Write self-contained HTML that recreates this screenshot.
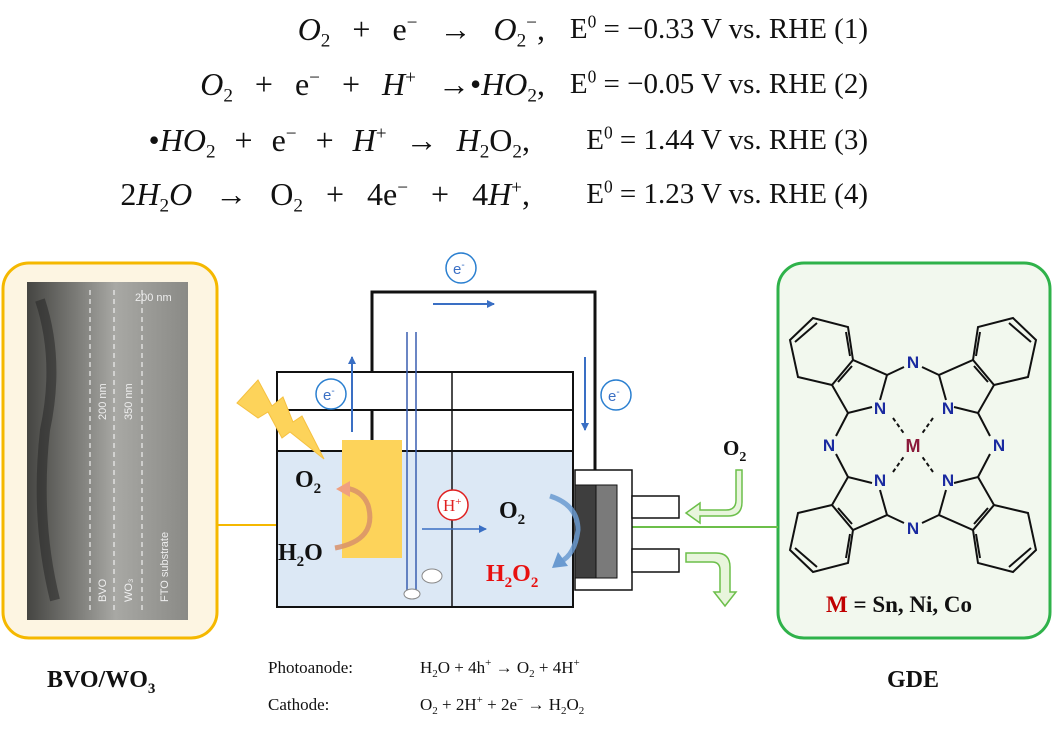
<!DOCTYPE html>
<html><head><meta charset="utf-8"><style>
body{margin:0;width:1052px;height:733px;background:#fff;overflow:hidden;position:relative;font-family:"Liberation Serif",serif}
.l{position:absolute;right:507px;font-size:32px;word-spacing:14px;white-space:pre;color:#111}
.r{position:absolute;right:184px;font-size:29px;white-space:pre;color:#111}
i{font-style:italic}
sub{font-size:60%;vertical-align:-0.35em;line-height:0}
sup{font-size:60%;vertical-align:0.6em;line-height:0}
</style></head><body>
<div class="l" style="top:11px"><i>O</i><sub>2</sub> + e<sup>−</sup> → <i>O</i><sub>2</sub><sup>−</sup>,</div>
<div class="r" style="top:13px">E<sup>0</sup> = −0.33 V vs. RHE (1)</div>
<div class="l" style="top:66px"><i>O</i><sub>2</sub> + e<sup>−</sup> + <i>H</i><sup>+</sup> →•<i>HO</i><sub>2</sub>,</div>
<div class="r" style="top:68px">E<sup>0</sup> = −0.05 V vs. RHE (2)</div>
<div class="l" style="top:122px;right:522px;word-spacing:11px">•<i>HO</i><sub>2</sub> + e<sup>−</sup> + <i>H</i><sup>+</sup> → <i>H</i><sub>2</sub>O<sub>2</sub>,</div>
<div class="r" style="top:124px">E<sup>0</sup> = 1.44 V vs. RHE (3)</div>
<div class="l" style="top:176px;right:522px;word-spacing:15px">2<i>H</i><sub>2</sub><i>O</i> → O<sub>2</sub> + 4e<sup>−</sup> + 4<i>H</i><sup>+</sup>,</div>
<div class="r" style="top:178px">E<sup>0</sup> = 1.23 V vs. RHE (4)</div>

<svg width="1052" height="733" style="position:absolute;left:0;top:0" font-family="Liberation Serif">
<defs>
<marker id="ab" markerWidth="8" markerHeight="8" refX="7" refY="4" orient="auto" markerUnits="userSpaceOnUse"><path d="M0,0 L8,4 L0,8z" fill="#3a6fc4"/></marker>
<linearGradient id="sem" x1="0" x2="1"><stop offset="0" stop-color="#454542"/><stop offset="0.3" stop-color="#7a7a76"/><stop offset="0.55" stop-color="#a8a8a4"/><stop offset="1" stop-color="#8a8a86"/></linearGradient>
</defs>
<rect x="3" y="263" width="214" height="375" rx="26" fill="#fdf5e2" stroke="#f5b800" stroke-width="3"/>
<rect x="27" y="282" width="161" height="338" fill="url(#sem)"/>
<path d="M40,300 Q60,360 45,430 Q35,520 55,600" stroke="#222" stroke-width="10" fill="none" opacity="0.5"/>
<g stroke="#eee" stroke-dasharray="5,4" stroke-width="1.2"><line x1="90" y1="290" x2="90" y2="610"/><line x1="114" y1="290" x2="114" y2="610"/><line x1="142" y1="290" x2="142" y2="610"/></g>
<text x="135" y="301" font-family="Liberation Sans" font-size="11" fill="#eee">200 nm</text>
<g font-family="Liberation Sans" font-size="11" fill="#eee">
<text transform="translate(106,602) rotate(-90)">BVO</text>
<text transform="translate(132,602) rotate(-90)">WO₃</text>
<text transform="translate(168,602) rotate(-90)">FTO substrate</text>
<text transform="translate(106,420) rotate(-90)">200 nm</text>
<text transform="translate(132,420) rotate(-90)">350 nm</text></g>
<line x1="217" y1="525" x2="343" y2="525" stroke="#f5b800" stroke-width="2"/>
<rect x="778" y="263" width="272" height="375" rx="26" fill="#f2f8ee" stroke="#2fb24a" stroke-width="3"/>
<line x1="617" y1="527" x2="778" y2="527" stroke="#6cbf4a" stroke-width="2"/>
<rect x="277" y="451" width="296" height="156" fill="#dce8f5"/>
<rect x="277" y="372" width="296" height="235" fill="none" stroke="#111" stroke-width="2"/>
<polyline points="372,440 372,292 595,292 595,485" fill="none" stroke="#111" stroke-width="3"/>
<rect x="369" y="373" width="83" height="36" fill="#fff"/>
<line x1="277" y1="410" x2="573" y2="410" stroke="#111" stroke-width="2"/>
<line x1="277" y1="451" x2="573" y2="451" stroke="#111" stroke-width="2"/>
<line x1="277" y1="372" x2="573" y2="372" stroke="#111" stroke-width="2"/>
<line x1="452" y1="372" x2="452" y2="607" stroke="#111" stroke-width="1.5"/>
<line x1="407" y1="332" x2="407" y2="594" stroke="#3a5fb0" stroke-width="1.5"/>
<line x1="416" y1="332" x2="416" y2="594" stroke="#3a5fb0" stroke-width="1.5"/>
<ellipse cx="412" cy="594" rx="8" ry="5" fill="#fff" stroke="#888"/>
<ellipse cx="432" cy="576" rx="10" ry="7" fill="#fff" stroke="#888"/>
<rect x="342" y="440" width="60" height="118" fill="#fdd35a"/>
<rect x="575" y="470" width="57" height="120" fill="#fff" stroke="#111" stroke-width="1.5"/>
<rect x="575" y="485" width="21" height="93" fill="#3e3e3e" stroke="#111"/>
<rect x="596" y="485" width="21" height="93" fill="#7a7a7a" stroke="#111"/>
<rect x="632" y="496" width="47" height="22" fill="#fff" stroke="#111" stroke-width="1.5"/>
<rect x="632" y="549" width="47" height="23" fill="#fff" stroke="#111" stroke-width="1.5"/>
<line x1="433" y1="304" x2="494" y2="304" stroke="#3a6fc4" stroke-width="2" marker-end="url(#ab)"/>
<line x1="352" y1="432" x2="352" y2="357" stroke="#3a6fc4" stroke-width="2" marker-end="url(#ab)"/>
<line x1="585" y1="357" x2="585" y2="430" stroke="#3a6fc4" stroke-width="2" marker-end="url(#ab)"/>
<line x1="422" y1="529" x2="486" y2="529" stroke="#3a6fc4" stroke-width="1.5" marker-end="url(#ab)"/>
<g fill="#fff" stroke="#2a7fd0" stroke-width="1.5">
<circle cx="461" cy="268" r="15"/><circle cx="331" cy="394" r="15"/><circle cx="616" cy="395" r="15"/></g>
<g font-family="Liberation Sans" font-size="15" fill="#3a6fc4">
<text x="453" y="274">e<tspan font-size="10" dy="-6">-</tspan></text>
<text x="323" y="400">e<tspan font-size="10" dy="-6">-</tspan></text>
<text x="608" y="401">e<tspan font-size="10" dy="-6">-</tspan></text></g>
<circle cx="453" cy="505" r="15" fill="#fff" stroke="#e02020" stroke-width="1.5"/>
<text x="443" y="511" font-size="17" fill="#e02020">H<tspan font-size="11" dy="-6">+</tspan></text>
<polygon points="237,403 258,380 272,406 283,397 293,422 302,416 324,459 290,432 282,438 268,412 258,418" fill="#fdd35a" stroke="#f5c040"/>
<path d="M335,548 Q378,540 368,505 Q362,490 345,488" fill="none" stroke="#d8906a" stroke-width="5" opacity="0.85"/>
<polygon points="336,489 350,481 350,497" fill="#f0a080"/>
<path d="M550,496 Q578,505 578,530 Q575,555 560,562" fill="none" stroke="#6a9ad0" stroke-width="5" opacity="0.85"/>
<polygon points="552,568 558,552 568,566" fill="#6a9ad0"/>
<path d="M736,470 L736,500 Q736,510 726,510 L700,510 L700,503 L686,513 L700,523 L700,516 L728,516 Q742,516 742,502 L742,470 Z" fill="#e8f5dc" stroke="#6cbf4a" stroke-width="1.5"/>
<path d="M686,553 L716,553 Q730,553 730,567 L730,592 L736,592 L725,606 L714,592 L720,592 L720,570 Q720,562 712,562 L686,562 Z" fill="#e8f5dc" stroke="#6cbf4a" stroke-width="1.5"/>
<g font-weight="bold" font-size="24" fill="#111">
<text x="295" y="487">O<tspan font-size="15" dy="6">2</tspan></text>
<text x="278" y="560">H<tspan font-size="15" dy="6">2</tspan><tspan dy="-6">O</tspan></text>
<text x="499" y="518">O<tspan font-size="15" dy="6">2</tspan></text>
<text x="723" y="455" font-size="21">O<tspan font-size="14" dy="6">2</tspan></text>
<text x="486" y="581" fill="#e81010">H<tspan font-size="15" dy="6">2</tspan><tspan dy="-6">O</tspan><tspan font-size="15" dy="6">2</tspan></text>
<text x="47" y="687">BVO/WO<tspan font-size="15" dy="6">3</tspan></text>
<text x="887" y="687">GDE</text>
</g>
<g font-size="17" fill="#111">
<text x="268" y="673">Photoanode:</text>
<text x="420" y="673">H<tspan font-size="11" dy="4">2</tspan><tspan dy="-4">O + 4h</tspan><tspan font-size="11" dy="-7">+</tspan><tspan dy="7"> → O</tspan><tspan font-size="11" dy="4">2</tspan><tspan dy="-4"> + 4H</tspan><tspan font-size="11" dy="-7">+</tspan></text>
<text x="268" y="710">Cathode:</text>
<text x="420" y="710">O<tspan font-size="11" dy="4">2</tspan><tspan dy="-4"> + 2H</tspan><tspan font-size="11" dy="-7">+</tspan><tspan dy="7"> + 2e</tspan><tspan font-size="11" dy="-7">−</tspan><tspan dy="7"> → H</tspan><tspan font-size="11" dy="4">2</tspan><tspan dy="-4">O</tspan><tspan font-size="11" dy="4">2</tspan></text>
</g>
<g id="q" stroke="#111" stroke-width="2" fill="none">
<path d="M880,400 L887,375 L853,360 L832,385 L848,413 L872,407"/>
<path d="M853,360 L848,327 L813,318 L790,340 L798,377 L832,385"/>
<path d="M887,375 L904,367 M848,413 L836,436"/>
<path d="M852,366 L838,382 M817,323 L795,342 M846,332 L850,356"/>
<path d="M893,418 L905,435" stroke-dasharray="4,3"/>
</g>
<use href="#q" transform="translate(1826,0) scale(-1,1)"/>
<use href="#q" transform="translate(0,890) scale(1,-1)"/>
<use href="#q" transform="translate(1826,890) scale(-1,-1)"/>
<g font-family="Liberation Sans" font-weight="bold" font-size="17" fill="#1a2aa0" text-anchor="middle">
<text x="913" y="368">N</text><text x="913" y="534">N</text><text x="829" y="451">N</text><text x="999" y="451">N</text>
<text x="880" y="414">N</text><text x="948" y="414">N</text><text x="880" y="486">N</text><text x="948" y="486">N</text>
</g>
<text x="913" y="452" text-anchor="middle" font-family="Liberation Sans" font-weight="bold" font-size="18" fill="#8a1a3a">M</text>
<text x="826" y="612" font-weight="bold" font-size="23" fill="#111"><tspan fill="#c00000">M</tspan> = Sn, Ni, Co</text>
</svg>
</body></html>
